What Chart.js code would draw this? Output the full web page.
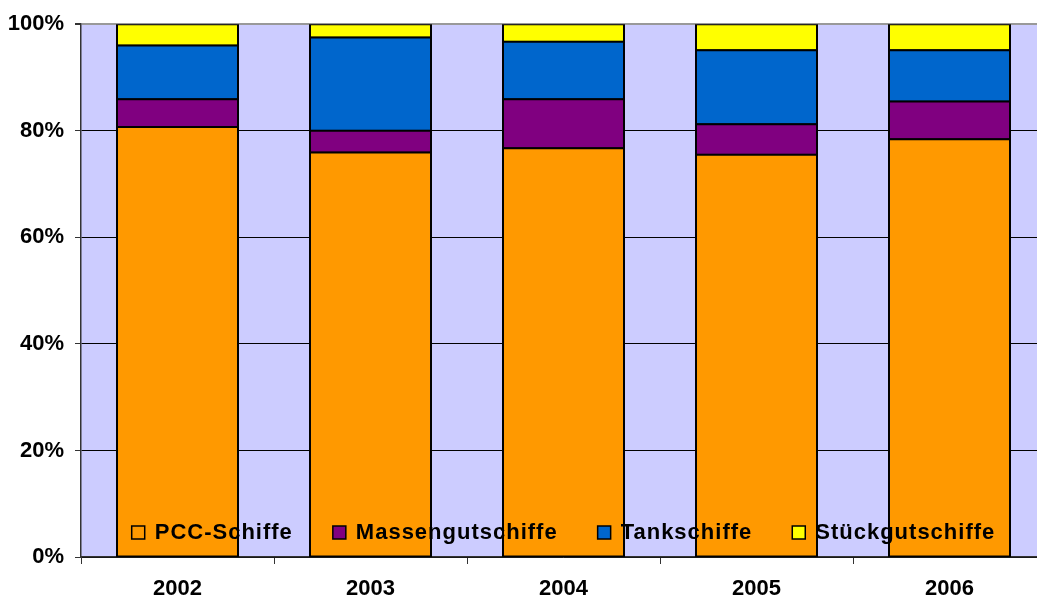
<!DOCTYPE html>
<html>
<head>
<meta charset="utf-8">
<script src="https://cdn.jsdelivr.net/npm/chart.js@4/dist/chart.umd.min.js"></script>
<style>
  html, body { margin: 0; padding: 0; overflow: hidden; background: #fff; }
  canvas { display: block; }
</style>
</head>
<body>
<canvas id="chart" width="1050" height="599"></canvas>
<script>
// Anteil der Schiffstypen je Jahr (in %)
const years = ['2002', '2003', '2004', '2005', '2006'];
const pccSchiffe = [80.7, 75.9, 76.7, 75.5, 78.4];
const massengutSchiffe = [5.2, 4.1, 9.2, 5.7, 7.1];
const tankSchiffe = [10.1, 17.5, 10.8, 13.9, 9.6];
const stueckgutSchiffe = [4.0, 2.5, 3.3, 4.9, 4.9];
const yTickStep = 20;

const FONT_FAMILY = '"Liberation Sans", Arial, sans-serif';

// Lavender plot background behind the bars
const plotBackground = {
  id: 'plotBackground',
  beforeDraw(chart) {
    const { ctx, chartArea: a } = chart;
    ctx.save();
    ctx.fillStyle = '#CCCCFF';
    ctx.fillRect(a.left, a.top, a.right - a.left, a.bottom - a.top);
    ctx.restore();
  }
};

// Single-row legend placed inside the plot, near its bottom edge
const innerLegend = {
  id: 'innerLegend',
  afterDatasetsDraw(chart) {
    const { ctx, chartArea: a } = chart;
    const sets = chart.data.datasets;
    ctx.save();
    ctx.font = 'bold 22px ' + FONT_FAMILY;
    ctx.letterSpacing = '1px';
    const box = 13, gapBoxText = 10, gapItems = 40;
    const widths = sets.map(d => ctx.measureText(d.label).width);
    const total = widths.reduce((s, w) => s + box + gapBoxText + w, 0) + gapItems * (sets.length - 1);
    let x = (a.left + a.right) / 2 - total / 2;
    const yMid = a.bottom - 24.5;
    ctx.textBaseline = 'middle';
    ctx.textAlign = 'left';
    sets.forEach((d, i) => {
      ctx.fillStyle = d.backgroundColor;
      ctx.fillRect(x, yMid - box / 2, box, box);
      ctx.lineWidth = 1.5;
      ctx.strokeStyle = '#000';
      ctx.strokeRect(x, yMid - box / 2, box, box);
      ctx.fillStyle = '#000';
      ctx.fillText(d.label, x + box + gapBoxText, yMid);
      x += box + gapBoxText + widths[i] + gapItems;
    });
    ctx.restore();
  }
};

const barStyle = {
  borderColor: '#000',
  borderWidth: 2,
  inflateAmount: 1,
  borderSkipped: false,
  barPercentage: 0.627,
  categoryPercentage: 1.0
};

new Chart(document.getElementById('chart'), {
  type: 'bar',
  data: {
    labels: years,
    datasets: [
      { label: 'PCC-Schiffe', data: pccSchiffe, backgroundColor: '#FF9900', ...barStyle },
      { label: 'Massengutschiffe', data: massengutSchiffe, backgroundColor: '#800080', ...barStyle },
      { label: 'Tankschiffe', data: tankSchiffe, backgroundColor: '#0066CC', ...barStyle },
      { label: 'Stückgutschiffe', data: stueckgutSchiffe, backgroundColor: '#FFFF00', ...barStyle }
    ]
  },
  options: {
    responsive: false,
    animation: false,
    devicePixelRatio: 1,
    layout: { padding: { top: 22, right: 4, left: 0, bottom: 0 } },
    plugins: {
      legend: { display: false },
      tooltip: { enabled: false }
    },
    scales: {
      x: {
        stacked: true,
        offset: true,
        grid: {
          offset: true,
          drawOnChartArea: false,
          drawTicks: true,
          tickLength: 7,
          color: '#333'
        },
        border: { color: '#333', width: 1.5 },
        ticks: {
          color: '#000',
          padding: 12,
          font: { family: FONT_FAMILY, size: 22, weight: 'bold' }
        },
        afterFit(scale) { scale.height = 42; }
      },
      y: {
        stacked: true,
        min: 0,
        max: 100,
        ticks: {
          stepSize: yTickStep,
          color: '#000',
          padding: 11,
          font: { family: FONT_FAMILY, size: 22, weight: 'bold' },
          callback: v => v + '%'
        },
        grid: {
          color: c => (c.tick && c.tick.value === 100 ? '#999' : '#000'),
          lineWidth: c => (c.tick && c.tick.value === 100 ? 2 : 1),
          tickColor: '#333',
          tickLength: 6
        },
        border: { color: '#333', width: 1.5 },
        afterFit(scale) { scale.width = 81; }
      }
    }
  },
  plugins: [plotBackground, innerLegend]
});
</script>
</body>
</html>
